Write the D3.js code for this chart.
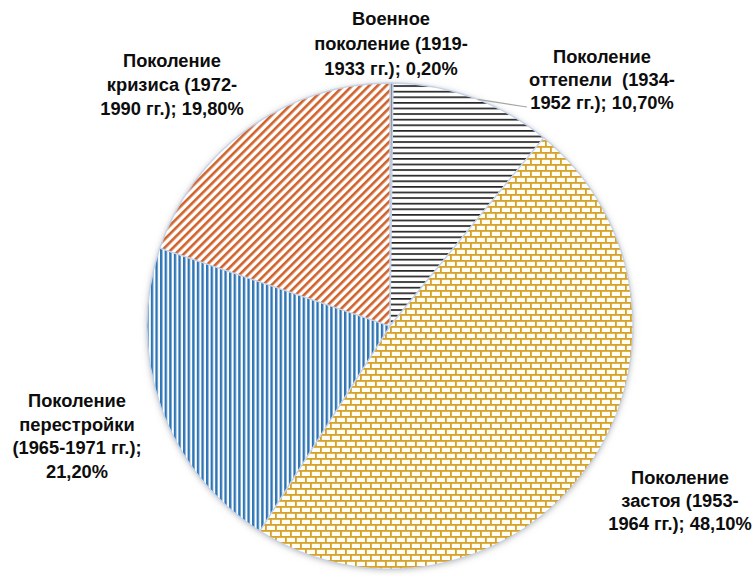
<!DOCTYPE html>
<html>
<head>
<meta charset="utf-8">
<script src="https://cdn.jsdelivr.net/npm/d3@7"></script>
<style>
  body { margin: 0; background: #fff; }
  svg text { font-family: "Liberation Sans", Arial, sans-serif; font-weight: bold; font-size: 18.3px; fill: #0d0d0d; white-space: pre; }
</style>
</head>
<body>
<svg id="chart" width="755" height="576"></svg>
<script>
// generations, clockwise from 12 o'clock
var categories = ["Военное", "оттепели", "застоя", "перестройки", "кризиса"];
var shares = [0.20, 10.70, 48.10, 21.20, 19.80];
var labelLines = [
    ["Военное", "поколение (1919-", "1933 гг.); 0,20%"],
    ["Поколение", "оттепели  (1934-", "1952 гг.); 10,70%"],
    ["Поколение", "застоя (1953-", "1964 гг.); 48,10%"],
    ["Поколение", "перестройки", "(1965-1971 гг.);", "21,20%"],
    ["Поколение", "кризиса (1972-", "1990 гг.); 19,80%"]
];

// label anchor (center of first line) for each slice
var labelPos = [[391, 20], [602, 58], [680, 479], [77, 402], [172, 62]];
var lineGap = [25, 23, 23, 23.5, 24];

var svg = d3.select("#chart");
var defs = svg.append("defs");

/* shadow round the pie */
var f = defs.append("filter").attr("id", "shadow")
    .attr("x", "-10%").attr("y", "-10%").attr("width", "120%").attr("height", "120%");
f.append("feDropShadow").attr("dx", 0).attr("dy", 1).attr("stdDeviation", 3)
    .attr("flood-color", "#7f7f7f").attr("flood-opacity", 0.55);

/* hatch fills */
var p = defs.append("pattern").attr("id", "pHoriz").attr("patternUnits", "userSpaceOnUse")
    .attr("width", 8).attr("height", 5.6);
p.append("rect").attr("width", 8).attr("height", 5.6).attr("fill", "#fff");
p.append("rect").attr("y", 0).attr("width", 8).attr("height", 1.7).attr("fill", "#262626");

p = defs.append("pattern").attr("id", "pVert").attr("patternUnits", "userSpaceOnUse")
    .attr("width", 4.6).attr("height", 8);
p.append("rect").attr("width", 4.6).attr("height", 8).attr("fill", "#fff");
p.append("rect").attr("x", 0).attr("width", 2.4).attr("height", 8).attr("fill", "#2e75b6");

p = defs.append("pattern").attr("id", "pDiag").attr("patternUnits", "userSpaceOnUse")
    .attr("width", 6).attr("height", 6).attr("patternTransform", "rotate(45)");
p.append("rect").attr("width", 6).attr("height", 6).attr("fill", "#fff");
p.append("rect").attr("x", 0).attr("width", 2.6).attr("height", 6).attr("fill", "#d0612a");

p = defs.append("pattern").attr("id", "pBrick").attr("patternUnits", "userSpaceOnUse")
    .attr("width", 20).attr("height", 12);
p.append("rect").attr("width", 20).attr("height", 12).attr("fill", "#fffdf4");
p.append("rect").attr("y", 0).attr("width", 20).attr("height", 1.8).attr("fill", "#d7a22c");
p.append("rect").attr("y", 6).attr("width", 20).attr("height", 1.8).attr("fill", "#d7a22c");
[[0, 0], [10, 0], [5, 6], [15, 6]].forEach(function(b){
    p.append("rect").attr("x", b[0]).attr("y", b[1]).attr("width", 1.8).attr("height", 6)
        .attr("fill", "#d7a22c");
});

var fills = ["#8c8c8c", "url(#pHoriz)", "url(#pBrick)", "url(#pVert)", "url(#pDiag)"];

var cx = 390, cy = 326, r = 243;

var pie = d3.pie().sort(null).value(function(d){ return d; });
var arc = d3.arc().innerRadius(0).outerRadius(r);
var arcs = pie(shares);

var g = svg.append("g").attr("transform", "translate(" + cx + "," + cy + ")");

g.append("circle").attr("r", r).attr("fill", "#fff").attr("filter", "url(#shadow)");

g.selectAll("path.slice")
    .data(arcs)
    .enter()
    .append("path")
    .attr("class", "slice")
    .attr("d", arc)
    .attr("fill", function(d, i){ return fills[i]; })
    .attr("stroke", "#c5d3ea")
    .attr("stroke-width", 1.3);

/* leader line for the thaw generation */
var ang = 0.37;
g.append("line")
    .attr("x1", Math.sin(ang) * r).attr("y1", -Math.cos(ang) * r)
    .attr("x2", 527 - cx).attr("y2", 107 - cy)
    .attr("stroke", "#a6a6a6").attr("stroke-width", 1.2);

/* data labels */
labelLines.forEach(function(lines, i){
    var t = svg.append("text")
        .attr("text-anchor", "middle")
        .attr("x", labelPos[i][0])
        .attr("y", labelPos[i][1])
        .attr("dominant-baseline", "middle");
    lines.forEach(function(s, k){
        t.append("tspan")
            .attr("x", labelPos[i][0])
            .attr("dy", k == 0 ? 0 : lineGap[i])
            .text(s);
    });
});
</script>
</body>
</html>
